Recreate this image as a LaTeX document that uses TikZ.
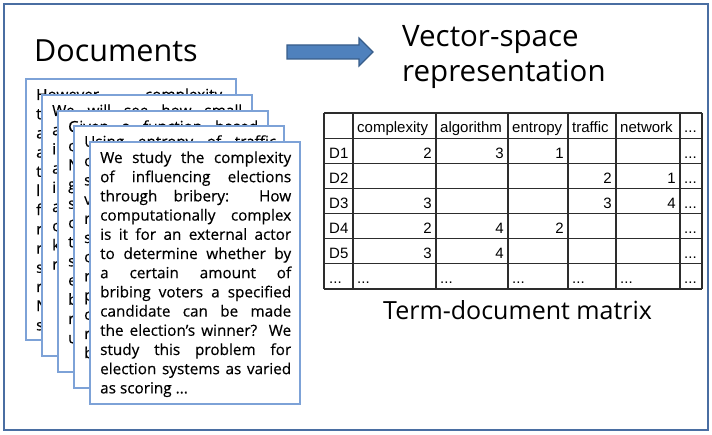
\documentclass[tikz,border=0pt]{standalone}
\usepackage{fontspec}
\setmainfont{Open Sans}
\newfontfamily\tabfont{Liberation Sans}
\newfontface\cardface{Open Sans}[FakeBold=0.35]
\definecolor{frameblue}{RGB}{74,110,162}
\definecolor{cardblue}{RGB}{125,162,215}
\definecolor{arrowfill}{RGB}{79,129,189}
\definecolor{arrowline}{RGB}{56,93,138}
\definecolor{gridgray}{RGB}{45,45,45}
\newcommand{\jl}[2][191pt]{\makebox[#1][s]{#2}\par}
\newcommand{\cardfont}{\cardface\fontsize{15.3pt}{19.2pt}\selectfont\lineskiplimit=-20pt}
\tikzset{
  card/.style={draw=cardblue, line width=1.2pt, fill=white},
  cardtxt/.style={anchor=base west, inner sep=0pt},
  gridline/.style={draw=gridgray, line width=1.1pt},
  ttxt/.style={inner sep=0pt, font=\tabfont\fontsize{15pt}{18pt}\selectfont},
  tl/.style={ttxt, anchor=base west},
  tr/.style={ttxt, anchor=base east},
  bigtxt/.style={anchor=base west, inner sep=0pt},
}
\begin{document}
\begin{tikzpicture}[x=1pt,y=-1pt]
\useasboundingbox (0,0) rectangle (712,435);
\draw[draw=frameblue, line width=2.6pt] (4,4) rectangle (708,430);

% titles
\node[bigtxt, font=\fontsize{30.5pt}{36pt}\selectfont] (docs) at (34,62) {Documents};
\node[bigtxt, font=\fontsize{29.5pt}{35pt}\selectfont] (vec) at (402,47) {Vector-space};
\node[bigtxt, font=\fontsize{29.5pt}{35pt}\selectfont] (rep) at (402,82) {representation};
\node[bigtxt, font=\fontsize{25pt}{30pt}\selectfont] (tdm) at (383,320) {Term-document matrix};

% block arrow
\filldraw[fill=arrowfill, draw=arrowline, line width=1.2pt]
  (287,45) -- (359,45) -- (359,38) -- (373,52) -- (359,66) -- (359,59) -- (287,59) -- cycle;

% card 1
\draw[card] (26,79) rectangle (236,340);
\node[cardtxt] (c1) at (36,100) {\parbox[t]{191pt}{\cardfont
\jl[186pt]{However complexity}
t\par a\par a\par t\par l\par f\par r\par r\par s\par r\par N\par s\par}};
% card 2
\draw[card] (42,95) rectangle (252,356);
\node[cardtxt] (c2) at (52,116) {\parbox[t]{191pt}{\cardfont
\jl[190pt]{We will see how small}
a\par i\par a\par i\par a\par c\par k\par r\par}};
% card 3
\draw[card] (58,111) rectangle (268,372);
\node[cardtxt] (c3) at (68,132) {\parbox[t]{191pt}{\cardfont
\jl[190pt]{Given a function based}
c\par N\par g\par s\par c\par t\par s\par e\par b\par r\par u\par}};
% card 4
\draw[card] (74,126) rectangle (284,388);
\node[cardtxt] (c4) at (84,147) {\parbox[t]{191pt}{\cardfont
\jl[192pt]{Using entropy of traffic}
c\par s\par v\par r\par s\par c\par r\par p\par c\par r\par b\par}};
% card 5
\draw[card] (90,142) rectangle (300,404);
\node[cardtxt] (c5) at (100,163) {\parbox[t]{191pt}{\cardfont
\jl{We study the complexity}
\jl{of influencing elections}
\jl{through bribery: How}
\jl{computationally complex}
\jl{is it for an external actor}
\jl{to determine whether by}
\jl{a certain amount of}
\jl{bribing voters a specified}
\jl{candidate can be made}
\jl{the election’s winner? We}
\jl{study this problem for}
\jl{election systems as varied}
as scoring ...\par}};

% table grid
\foreach \yy in {113,138.1,163.3,188.4,213.6,238.7,263.9,289}
  \draw[gridline] (324,\yy) -- (702,\yy);
\foreach \xx in {324,353,436,508,568,616,680,702}
  \draw[gridline] (\xx,113) -- (\xx,289);

% header
\node[tl] (h1) at (357,133) {complexity};
\node[tl] (h2) at (440,133) {algorithm};
\node[tl] (h3) at (512,133) {entropy};
\node[tl] (h4) at (572,133) {traffic};
\node[tl] (h5) at (620,133) {network};
\node[tl] (h6) at (684,133) {...};
% row labels
\node[tl] (r1) at (329,158.3) {D1};
\node[tl] (r2) at (329,183.4) {D2};
\node[tl] (r3) at (329,208.6) {D3};
\node[tl] (r4) at (329,233.7) {D4};
\node[tl] (r5) at (329,258.9) {D5};
\node[tl] (r6) at (329,284) {...};
% values
\node[tr] (v11) at (432,158.3) {2};
\node[tr] (v12) at (504,158.3) {3};
\node[tr] (v13) at (564,158.3) {1};
\node[tr] (v24) at (612,183.4) {2};
\node[tr] (v25) at (676,183.4) {1};
\node[tr] (v31) at (432,208.6) {3};
\node[tr] (v34) at (612,208.6) {3};
\node[tr] (v35) at (676,208.6) {4};
\node[tr] (v41) at (432,233.7) {2};
\node[tr] (v42) at (504,233.7) {4};
\node[tr] (v43) at (564,233.7) {2};
\node[tr] (v51) at (432,258.9) {3};
\node[tr] (v52) at (504,258.9) {4};
% last column dots
\node[tl] (e1) at (684,158.3) {...};
\node[tl] (e2) at (684,183.4) {...};
\node[tl] (e3) at (684,208.6) {...};
\node[tl] (e4) at (684,233.7) {...};
\node[tl] (e5) at (684,258.9) {...};
% bottom row dots
\node[tl] (b1) at (357,284) {...};
\node[tl] (b2) at (440,284) {...};
\node[tl] (b3) at (512,284) {...};
\node[tl] (b4) at (572,284) {...};
\node[tl] (b5) at (620,284) {...};
\node[tl] (b6) at (684,284) {...};
\end{tikzpicture}
\end{document}
